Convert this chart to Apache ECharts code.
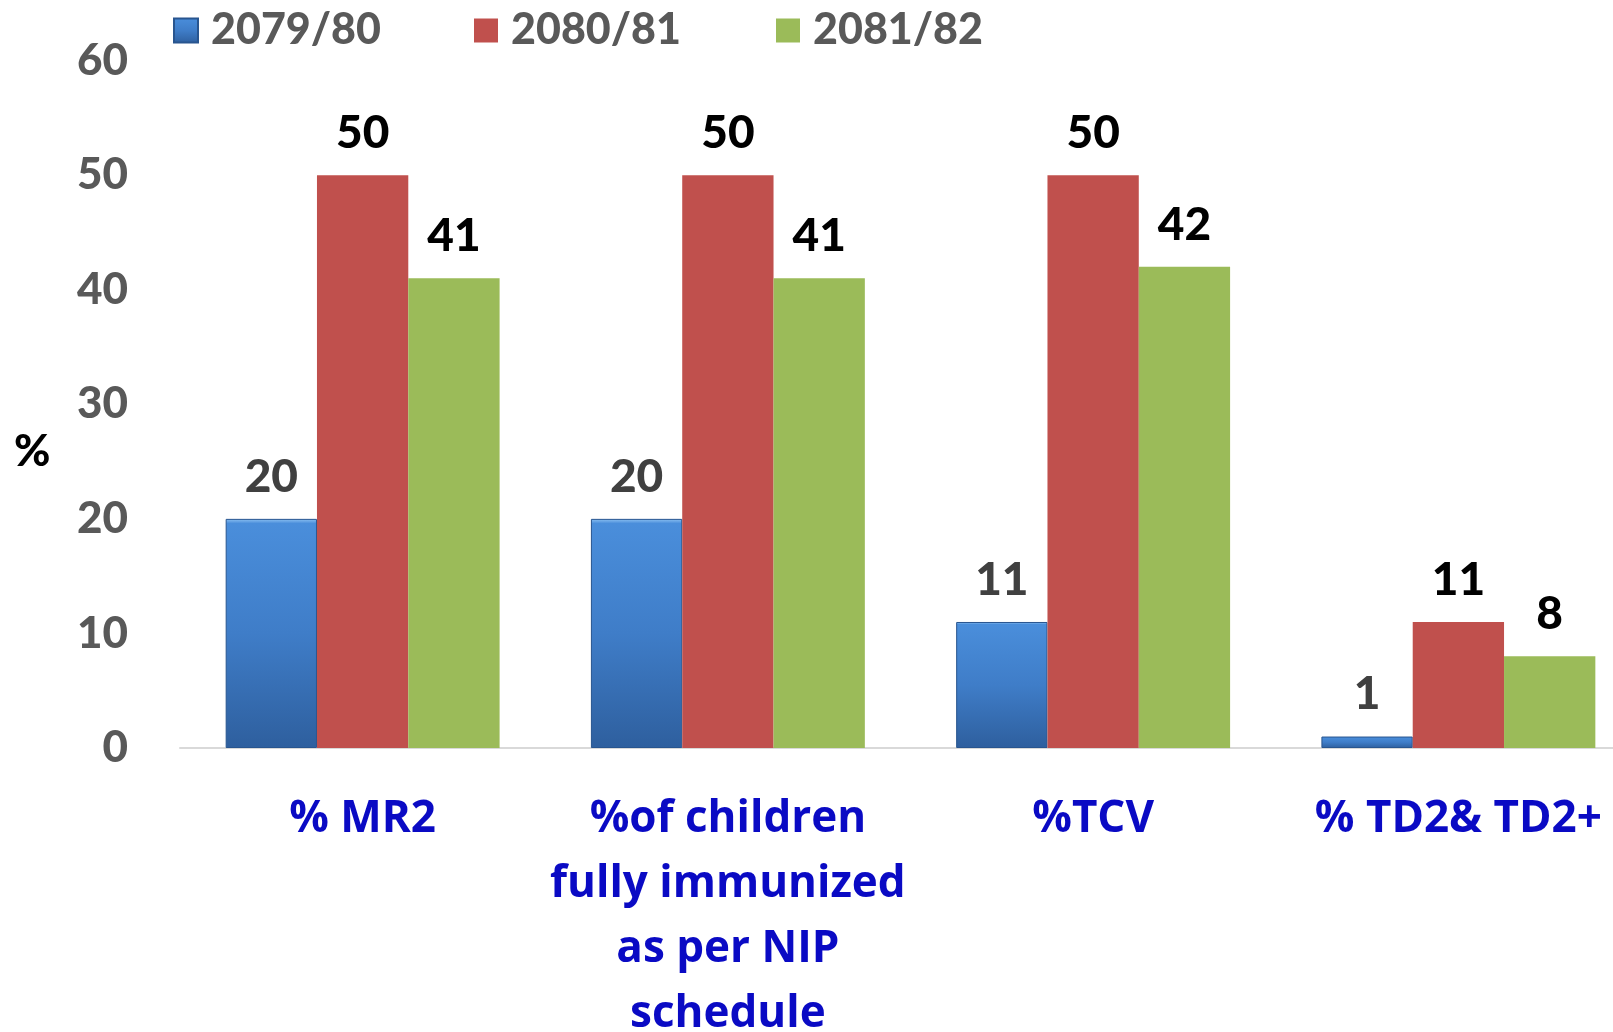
<!DOCTYPE html>
<html lang="en">

<head>
  <meta charset="UTF-8">
  <title>Immunization coverage</title>
  <style>
    html, body {
      margin: 0;
      padding: 0;
      background: #fff;
    }

    #main {
      width: 1613px;
      height: 1032px;
    }
  </style>
</head>

<body>
  <div id="main"></div>
  <script src="https://cdn.jsdelivr.net/npm/echarts@6/dist/echarts.min.js"></script>
  <script>
    var categories = ['% MR2', '%of children\nfully immunized\nas per NIP\nschedule', '%TCV', '% TD2& TD2+'];
    var years = ['2079/80', '2080/81', '2081/82'];
    var values2079 = [20, 20, 11, 1];
    var values2080 = [50, 50, 50, 11];
    var values2081 = [41, 41, 42, 8];
    var yTicks = [0, 10, 20, 30, 40, 50, 60];

    var fontName = 'Lato, "Open Sans", sans-serif';
    var myChart = echarts.init(document.getElementById('main'));

    var blueFill = new echarts.graphic.LinearGradient(0, 0, 0, 1, [
      { offset: 0, color: '#8ec2f2' },
      { offset: 0.02, color: '#4a8edb' },
      { offset: 0.5, color: '#3f7dc8' },
      { offset: 1, color: '#2e5f9e' }
    ]);

    function labelStyle(color) {
      return {
        show: true,
        position: 'top',
        distance: 19,
        color: color,
        fontFamily: fontName,
        fontWeight: 900,
        fontSize: 46
      };
    }

    function legendAt(name, x) {
      return {
        data: [name],
        left: x,
        top: 4,
        itemWidth: 24,
        itemHeight: 24,
        itemGap: 0,
        icon: 'rect',
        textStyle: {
          color: '#595959',
          fontFamily: fontName,
          fontWeight: 900,
          fontSize: 43,
          padding: [0, 0, 0, 8]
        }
      };
    }

    var option = {
      animation: false,
      legend: [
        legendAt(years[0], 168),
        legendAt(years[1], 469),
        legendAt(years[2], 771)
      ],
      grid: {
        left: 180,
        top: 60.6,
        width: 1461,
        height: 687.4,
        containLabel: false,
        outerBoundsMode: 'none'
      },
      graphic: [{
        type: 'text',
        left: 14,
        top: 430,
        style: {
          text: '%',
          fill: '#000',
          font: '900 44px ' + fontName
        }
      }],
      xAxis: {
        type: 'category',
        data: categories,
        axisLine: { lineStyle: { color: '#d9d9d9', width: 2 } },
        axisTick: { show: false },
        axisLabel: {
          interval: 0,
          margin: 39,
          color: '#0a0ac4',
          fontFamily: '"Open Sans", Lato, sans-serif',
          fontWeight: 'bold',
          fontSize: 44,
          lineHeight: 65,
          align: 'center'
        }
      },
      yAxis: {
        type: 'value',
        min: yTicks[0],
        max: yTicks[yTicks.length - 1],
        interval: 10,
        axisLine: { show: false },
        axisTick: { show: false },
        splitLine: { show: false },
        axisLabel: {
          margin: 52,
          color: '#595959',
          fontFamily: fontName,
          fontWeight: 900,
          fontSize: 44
        }
      },
      series: [{
        name: years[0],
        type: 'bar',
        barGap: '0%',
        barCategoryGap: '25%',
        data: values2079,
        itemStyle: {
          color: blueFill,
          borderColor: '#28558f',
          borderWidth: 1
        },
        label: labelStyle('#404040')
      }, {
        name: years[1],
        type: 'bar',
        data: values2080,
        itemStyle: { color: '#c0504d' },
        label: labelStyle('#000')
      }, {
        name: years[2],
        type: 'bar',
        data: values2081,
        itemStyle: { color: '#9bbb59' },
        label: labelStyle('#000')
      }]
    };

    option && myChart.setOption(option);
  </script>
</body>

</html>
